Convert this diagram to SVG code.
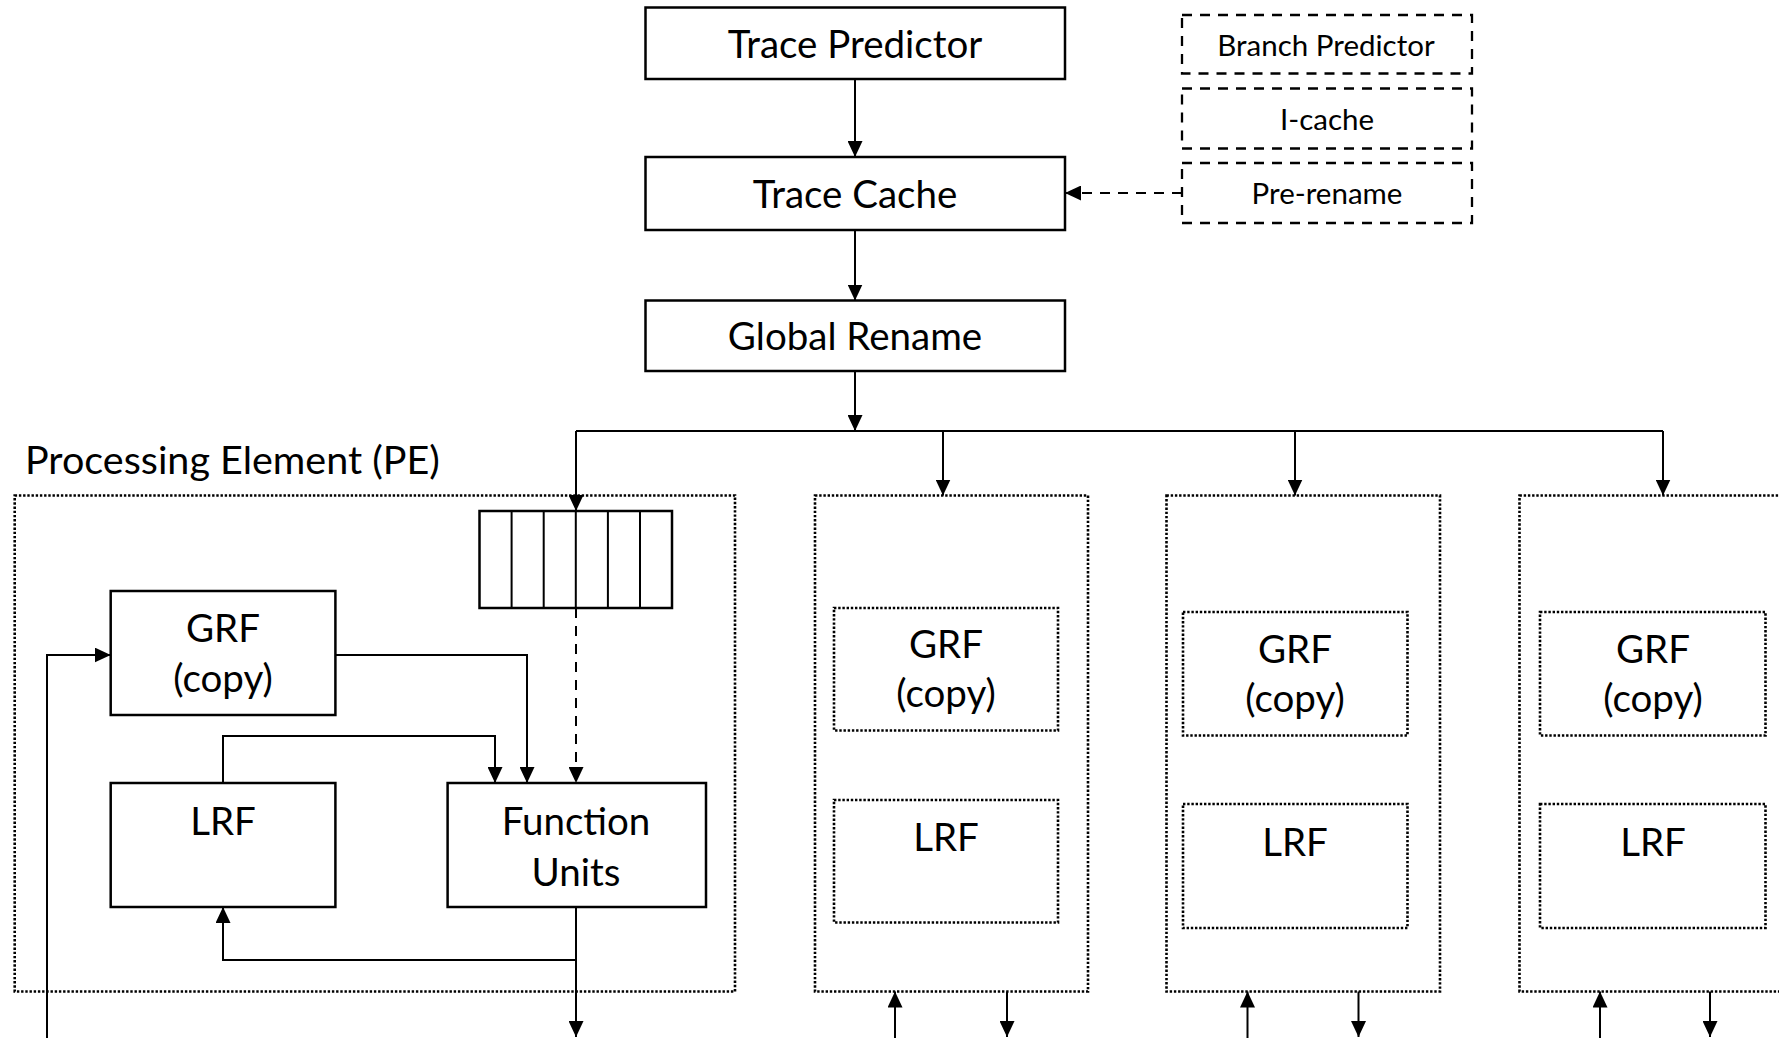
<svg xmlns="http://www.w3.org/2000/svg" width="1779" height="1038" viewBox="0 0 1779 1038">
  <style>
    .solid { fill: #fff; stroke: #000; stroke-width: 2.5; }
    .dashed { fill: #fff; stroke: #000; stroke-width: 2.3; stroke-dasharray: 10 8; }
    .dotted { fill: none; stroke: #000; stroke-width: 2.6; stroke-dasharray: 2.4 1.8; }
    .dotted-in { fill: #fff; stroke: #000; stroke-width: 2.6; stroke-dasharray: 2.4 1.8; }
    .wire { fill: none; stroke: #000; stroke-width: 2; }
    .wire-dash { fill: none; stroke: #000; stroke-width: 2; stroke-dasharray: 10 8; }
    .big { font-family: Lato, "Open Sans", sans-serif; font-size: 38.5px; fill: #000; text-anchor: middle; }
    .small { font-family: Lato, "Open Sans", sans-serif; font-size: 29.5px; fill: #000; text-anchor: middle; }
    .label { font-family: Lato, "Open Sans", sans-serif; font-size: 39.5px; fill: #000; }
  </style>
  <defs>
    <marker id="arrow" markerUnits="userSpaceOnUse" markerWidth="17" markerHeight="15" refX="16" refY="7.5" orient="auto">
      <path d="M0,0 L16,7.5 L0,15 z" fill="#000"/>
    </marker>
  </defs>

  <rect width="1779" height="1038" fill="#fff"/>

  <!-- Processing element outlines (dotted) -->
  <g id="pe1-frame"><rect class="dotted" x="14.7" y="495.5" width="720.3" height="496"/></g>
  <g id="pe2-frame"><rect class="dotted" x="815" y="495.5" width="273" height="496"/></g>
  <g id="pe3-frame"><rect class="dotted" x="1166.5" y="495.5" width="273.5" height="496"/></g>
  <g id="pe4-frame"><rect class="dotted" x="1519.5" y="495.5" width="273" height="496"/></g>

  <text class="label" x="25" y="474">Processing Element (PE)</text>

  <!-- Connectors -->
  <g id="connectors">
    <path class="wire" d="M855,79 V157" marker-end="url(#arrow)"/>
    <path class="wire" d="M855,230 V300.5" marker-end="url(#arrow)"/>
    <path class="wire" d="M855,371 V431" marker-end="url(#arrow)"/>
    <path class="wire-dash" d="M1182,193 H1065" marker-end="url(#arrow)"/>

    <!-- distribution bus to the processing elements -->
    <path class="wire" d="M576,431 H1663"/>
    <path class="wire" d="M576,431 V511" marker-end="url(#arrow)"/>
    <path class="wire" d="M943,431 V495.5" marker-end="url(#arrow)"/>
    <path class="wire" d="M1295,431 V495.5" marker-end="url(#arrow)"/>
    <path class="wire" d="M1663,431 V495.5" marker-end="url(#arrow)"/>

    <!-- inside PE 1 -->
    <path class="wire-dash" d="M576,608 V783" marker-end="url(#arrow)"/>
    <path class="wire" d="M335.4,655 H527 V783" marker-end="url(#arrow)"/>
    <path class="wire" d="M223,783 V736 H495 V783" marker-end="url(#arrow)"/>
    <path class="wire" d="M576,907 V960 H223 V907" marker-end="url(#arrow)"/>
    <path class="wire" d="M576,960 V1037" marker-end="url(#arrow)"/>
    <path class="wire" d="M47,1038 V655 H110.7" marker-end="url(#arrow)"/>

    <!-- PE 2..4 ports -->
    <path class="wire" d="M895,1038 V991.5" marker-end="url(#arrow)"/>
    <path class="wire" d="M1007,991.5 V1037" marker-end="url(#arrow)"/>
    <path class="wire" d="M1247.5,1038 V991.5" marker-end="url(#arrow)"/>
    <path class="wire" d="M1358.5,991.5 V1037" marker-end="url(#arrow)"/>
    <path class="wire" d="M1600,1038 V991.5" marker-end="url(#arrow)"/>
    <path class="wire" d="M1710,991.5 V1037" marker-end="url(#arrow)"/>
  </g>

  <!-- Front end -->
  <g id="trace-predictor">
    <rect class="solid" x="645.5" y="7.5" width="419.5" height="71.5"/>
    <text class="big" x="855" y="57.5">Trace Predictor</text>
  </g>
  <g id="trace-cache">
    <rect class="solid" x="645.5" y="157" width="419.5" height="73"/>
    <text class="big" x="855" y="208">Trace Cache</text>
  </g>
  <g id="global-rename">
    <rect class="solid" x="645.5" y="300.5" width="419.5" height="70.5"/>
    <text class="big" x="855" y="350">Global Rename</text>
  </g>
  <g id="branch-predictor">
    <rect class="dashed" x="1182" y="15" width="290" height="58.5"/>
    <text class="small" x="1326" y="55.5">Branch Predictor</text>
  </g>
  <g id="i-cache">
    <rect class="dashed" x="1182" y="88.5" width="290" height="60"/>
    <text class="small" x="1327" y="129.5">I-cache</text>
  </g>
  <g id="pre-rename">
    <rect class="dashed" x="1182" y="163" width="290" height="60"/>
    <text class="small" x="1327" y="204">Pre-rename</text>
  </g>

  <!-- PE 1 detail -->
  <g id="pe1-queue">
    <rect class="solid" x="479.5" y="511" width="192.5" height="97"/>
    <path class="wire" d="M511.6,511 V608 M543.7,511 V608 M575.8,511 V608 M607.9,511 V608 M640,511 V608" stroke-width="2.5"/>
  </g>
  <g id="pe1-grf">
    <rect class="solid" x="110.7" y="591" width="224.7" height="124"/>
    <text class="big" x="223" y="642">GRF</text>
    <text class="big" x="223" y="692">(copy)</text>
  </g>
  <g id="pe1-lrf">
    <rect class="solid" x="110.7" y="783" width="224.7" height="124"/>
    <text class="big" x="223" y="835">LRF</text>
  </g>
  <g id="pe1-function-units">
    <rect class="solid" x="447.6" y="783" width="258.4" height="124"/>
    <text class="big" x="576" y="835">Function</text>
    <text class="big" x="576" y="886">Units</text>
  </g>

  <!-- PE 2 -->
  <g id="pe2-grf">
    <rect class="dotted-in" x="834" y="608" width="224" height="122.5"/>
    <text class="big" x="946" y="658">GRF</text>
    <text class="big" x="946" y="707">(copy)</text>
  </g>
  <g id="pe2-lrf">
    <rect class="dotted-in" x="834" y="800" width="224" height="122.5"/>
    <text class="big" x="946" y="851">LRF</text>
  </g>

  <!-- PE 3 -->
  <g id="pe3-grf">
    <rect class="dotted-in" x="1183" y="612" width="224.5" height="123.5"/>
    <text class="big" x="1295" y="662.5">GRF</text>
    <text class="big" x="1295" y="712">(copy)</text>
  </g>
  <g id="pe3-lrf">
    <rect class="dotted-in" x="1183" y="804" width="224.5" height="124"/>
    <text class="big" x="1295" y="855.5">LRF</text>
  </g>

  <!-- PE 4 -->
  <g id="pe4-grf">
    <rect class="dotted-in" x="1540" y="612" width="225.5" height="123.5"/>
    <text class="big" x="1653" y="662.5">GRF</text>
    <text class="big" x="1653" y="712">(copy)</text>
  </g>
  <g id="pe4-lrf">
    <rect class="dotted-in" x="1540" y="804" width="225.5" height="124"/>
    <text class="big" x="1653" y="855.5">LRF</text>
  </g>
</svg>
